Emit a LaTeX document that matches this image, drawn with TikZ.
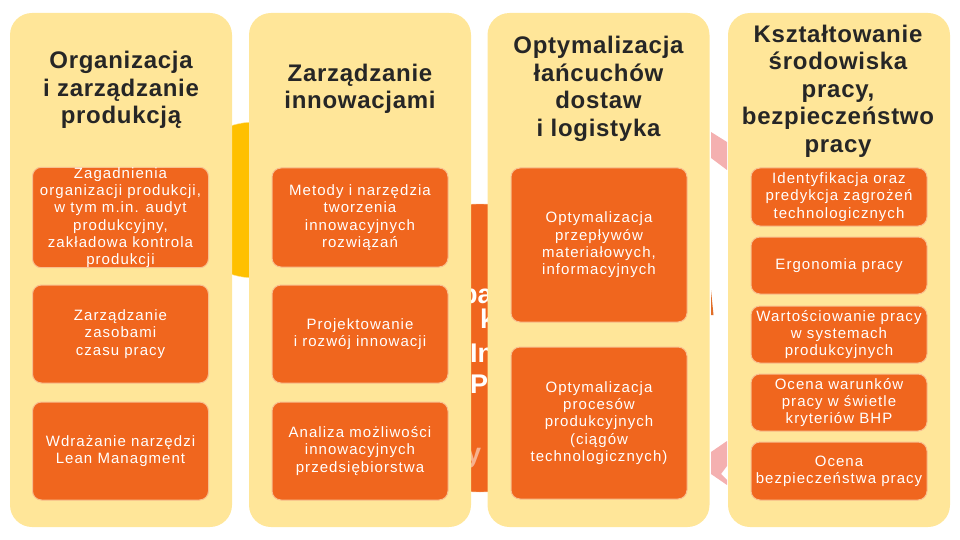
\documentclass[tikz,border=0pt]{standalone}
\usepackage{fontspec}
\setmainfont{Liberation Sans}
\newfontfamily\headfont[LetterSpace=3]{Liberation Sans}
\newfontfamily\itemfont[LetterSpace=7]{Liberation Sans}
\usepackage{tikz}
\definecolor{colbg}{HTML}{FFE699}
\definecolor{boxorange}{HTML}{F0661E}
\definecolor{boxrim}{HTML}{F8C08F}
\definecolor{ringgold}{HTML}{FFC000}
\definecolor{ringpink}{HTML}{F4B0B0}
\definecolor{headtext}{HTML}{262626}

\begin{document}
\begin{tikzpicture}[x=1pt,y=-1pt,
    column/.style={fill=colbg, rounded corners=22pt, minimum width=222pt, minimum height=514pt, inner sep=0pt},
    head/.style={text=headtext, align=center, inner sep=0pt, font=\headfont\bfseries\fontsize{24}{27.5}\selectfont},
    item/.style={fill=boxorange, draw=boxrim, line width=1pt, rounded corners=9pt, minimum width=176pt, inner sep=0pt, text=white, align=center, font=\itemfont\fontsize{15}{17.3}\selectfont},
    frag/.style={text=white, anchor=base west, inner sep=0pt, font=\bfseries\fontsize{27}{27}\selectfont}]
			\useasboundingbox (0,0) rectangle (960,540);
			% background shapes, mostly hidden
			\fill[ringgold, draw=colbg] (255,200) circle (78);
			\fill[boxorange, draw=boxrim] (480,348) circle (144);
			\node[frag] (fpa) at (461,303) {pa};
			\node[frag] (fk) at (480,328) {k};
			\node[frag] (fin) at (470,362) {In};
			\node[frag] (fp) at (470,393) {P};
			\node[frag, text opacity=0.5] (fy) at (466,462) {y};
			\fill[ringpink] (711,132) -- (727,142) -- (727,170) -- (711,158) -- cycle;
			\fill[ringpink] (711,452) -- (727,441) -- (727,466) -- (721,474) -- (727,480) -- (727,485) -- (711,474) -- cycle;
			\fill[boxorange!70!brown] (711,290) -- (713.5,315) -- (711,315) -- cycle;
			% columns
			\node[column] (c1) at (121,270) {};
			\node[column] (c2) at (360,270) {};
			\node[column] (c3) at (598.5,270) {};
			\node[column] (c4) at (839,270) {};
			% titles
			\node[head] (h1) at (121,90) {Organizacja\\i zarządzanie\\produkcją};
			\node[head] (h2) at (360,89) {Zarządzanie\\innowacjami};
			\node[head] (h3) at (598.5,89) {Optymalizacja\\łańcuchów\\dostaw\\i logistyka};
			\node[head] (h4) at (838,91) {Kształtowanie\\środowiska\\pracy,\\bezpieczeństwo\\pracy};
			% first column
			\node[item, minimum height=99pt] (i11) at (120.5,217.5) {Zagadnienia\\organizacji produkcji,\\w tym m.in. audyt\\produkcyjny,\\zakładowa kontrola\\produkcji};
			\node[item, minimum height=98pt] (i12) at (120.5,334) {Zarządzanie\\zasobami\\czasu pracy};
			\node[item, minimum height=98pt] (i13) at (120.5,451) {Wdrażanie narzędzi\\Lean Managment};
			% second column
			\node[item, minimum height=99pt] (i21) at (360,217.5) {Metody i narzędzia\\tworzenia\\innowacyjnych\\rozwiązań};
			\node[item, minimum height=98pt] (i22) at (360,334) {Projektowanie\\i rozwój innowacji};
			\node[item, minimum height=98pt] (i23) at (360,451) {Analiza możliwości\\innowacyjnych\\przedsiębiorstwa};
			% third column
			\node[item, minimum height=154pt] (i31) at (599,245) {Optymalizacja\\przepływów\\materiałowych,\\informacyjnych};
			\node[item, minimum height=152pt] (i32) at (599,423) {Optymalizacja\\procesów\\produkcyjnych\\(ciągów\\technologicznych)};
			% fourth column
			\node[item, minimum height=58pt] (i41) at (839,197) {Identyfikacja oraz\\predykcja zagrożeń\\technologicznych};
			\node[item, minimum height=57pt] (i42) at (839,265.5) {Ergonomia pracy};
			\node[item, minimum height=57pt] (i43) at (839,334.5) {Wartościowanie pracy\\w systemach\\produkcyjnych};
			\node[item, minimum height=57pt] (i44) at (839,402.5) {Ocena warunków\\pracy w świetle\\kryteriów BHP};
			\node[item, minimum height=58pt] (i45) at (839,471) {Ocena\\bezpieczeństwa pracy};
		\end{tikzpicture}
\end{document}
